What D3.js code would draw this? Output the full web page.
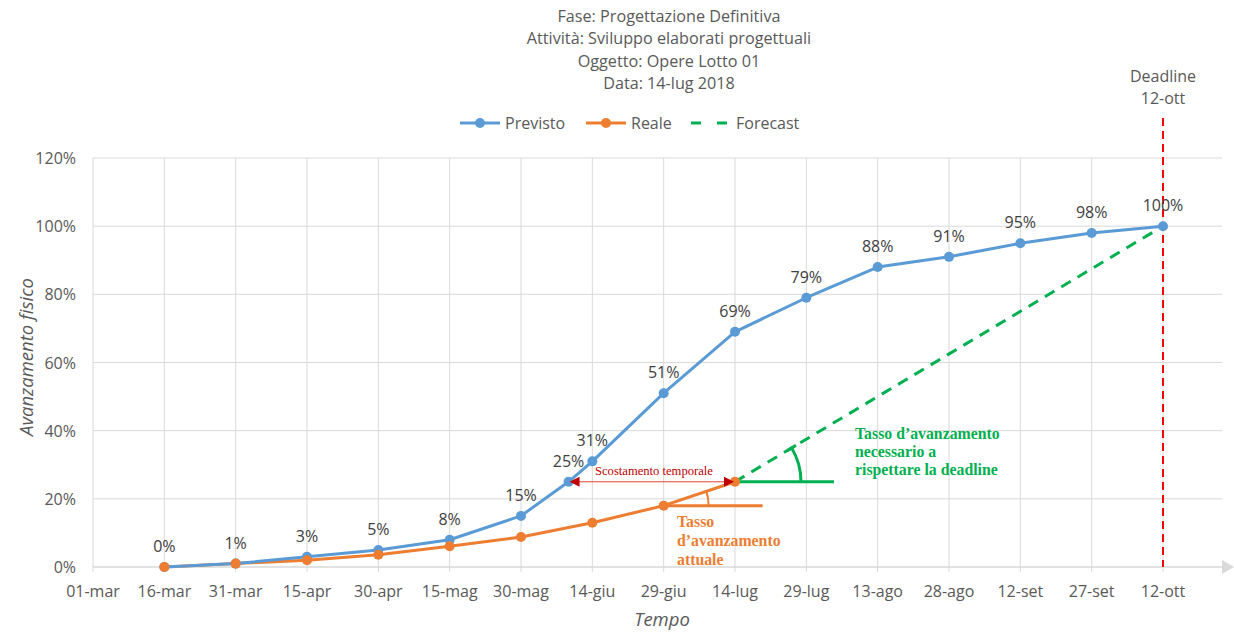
<!DOCTYPE html>
<html><head><meta charset="utf-8">
<script src="https://cdn.jsdelivr.net/npm/d3@7"></script>
<style>body{margin:0;background:#fff}svg{display:block}</style>
</head><body>
<svg id="c" width="1234" height="633"></svg>
<script>
const titleLines = ["Fase: Progettazione Definitiva","Attività: Sviluppo elaborati progettuali","Oggetto: Opere Lotto 01","Data: 14-lug 2018"];
const tickDates = ["2018-03-01","2018-03-16","2018-03-31","2018-04-15","2018-04-30","2018-05-15","2018-05-30","2018-06-14","2018-06-29","2018-07-14","2018-07-29","2018-08-13","2018-08-28","2018-09-12","2018-09-27","2018-10-12"];
const yTicks = [0,0.2,0.4,0.6,0.8,1.0,1.2];
const previstoDates = ["2018-03-16","2018-03-31","2018-04-15","2018-04-30","2018-05-15","2018-05-30","2018-06-09","2018-06-14","2018-06-29","2018-07-14","2018-07-29","2018-08-13","2018-08-28","2018-09-12","2018-09-27","2018-10-12"];
const previstoValues = [0,0.01,0.03,0.05,0.08,0.15,0.25,0.31,0.51,0.69,0.79,0.88,0.91,0.95,0.98,1.00];
const realeDates = ["2018-03-16","2018-03-31","2018-04-15","2018-04-30","2018-05-15","2018-05-30","2018-06-14","2018-06-29","2018-07-14"];
const realeValues = [0,0.01,0.02,0.036,0.061,0.088,0.13,0.18,0.25];
const forecastDates = ["2018-07-14","2018-10-12"];
const forecastValues = [0.25,1.00];
const deadlineDate = "2018-10-12";

const parse = d3.timeParse("%Y-%m-%d");
const it = d3.timeFormatLocale({dateTime:"%A %e %B %Y, %X",date:"%d/%m/%Y",time:"%H:%M:%S",periods:["AM","PM"],
  days:["domenica","lunedì","martedì","mercoledì","giovedì","venerdì","sabato"],shortDays:["dom","lun","mar","mer","gio","ven","sab"],
  months:["gennaio","febbraio","marzo","aprile","maggio","giugno","luglio","agosto","settembre","ottobre","novembre","dicembre"],
  shortMonths:["gen","feb","mar","apr","mag","giu","lug","ago","set","ott","nov","dic"]});
const fmt = it.format("%d-%b");

const FONT = "'Open Sans', sans-serif";
const SERIF = "'Liberation Serif', 'Times New Roman', serif";
const C_PREV = "#5b9bd5", C_REAL = "#ed7d31", C_FC = "#00b050", GRID = "#d9d9d9", TXT = "#595959", LBL = "#404040";

const svg = d3.select("#c");
const x = d3.scaleTime().domain([parse(tickDates[0]), parse(tickDates[tickDates.length-1])]).range([93,1163]);
const y = d3.scaleLinear().domain([0,1.2]).range([567,158]);
const xEnd = 1222;

// title
svg.append("g").selectAll("text").data(titleLines).join("text")
  .attr("x",669).attr("y",(d,i)=>21.5+i*22.6).attr("text-anchor","middle")
  .attr("font-family",FONT).attr("font-size",16.2).attr("fill",TXT).text(d=>d);

// gridlines
const g = svg.append("g");
g.selectAll("line.h").data(yTicks.slice(1)).join("line")
  .attr("x1",x.range()[0]).attr("x2",xEnd).attr("y1",d=>y(d)).attr("y2",d=>y(d))
  .attr("stroke",GRID).attr("stroke-width",1);
g.selectAll("line.v").data(tickDates).join("line")
  .attr("x1",d=>x(parse(d))).attr("x2",d=>x(parse(d))).attr("y1",y(1.2)).attr("y2",y(0)+5)
  .attr("stroke",GRID).attr("stroke-width",1);
// x axis line + arrow
g.append("line").attr("x1",x.range()[0]).attr("x2",xEnd).attr("y1",y(0)).attr("y2",y(0)).attr("stroke",GRID).attr("stroke-width",1.5);
g.append("path").attr("d",`M${xEnd},${y(0)-7}L${xEnd+12},${y(0)}L${xEnd},${y(0)+7}Z`).attr("fill",GRID);

// y tick labels
svg.append("g").selectAll("text").data(yTicks).join("text")
  .attr("x",76).attr("y",d=>y(d)+6).attr("text-anchor","end")
  .attr("font-family",FONT).attr("font-size",16).attr("fill",TXT).text(d=>Math.round(d*100)+"%");
// x tick labels
svg.append("g").selectAll("text").data(tickDates).join("text")
  .attr("x",d=>x(parse(d))).attr("y",597).attr("text-anchor","middle")
  .attr("font-family",FONT).attr("font-size",16).attr("fill",TXT).text(d=>fmt(parse(d)));

// axis titles
svg.append("text").attr("transform","translate(33,357) rotate(-90)").attr("text-anchor","middle")
  .attr("font-family",FONT).attr("font-size",18.5).attr("font-style","italic").attr("fill",TXT).text("Avanzamento fisico");
svg.append("text").attr("x",662).attr("y",626).attr("text-anchor","middle")
  .attr("font-family",FONT).attr("font-size",18.5).attr("font-style","italic").attr("fill",TXT).text("Tempo");

// deadline
const xd = x(parse(deadlineDate));
svg.append("line").attr("x1",xd).attr("x2",xd).attr("y1",118).attr("y2",y(0))
  .attr("stroke","#ff0000").attr("stroke-width",2).attr("stroke-dasharray","8,5");
svg.append("text").attr("x",xd).attr("y",81.5).attr("text-anchor","middle").attr("font-family",FONT).attr("font-size",16).attr("fill",TXT).text("Deadline");
svg.append("text").attr("x",xd).attr("y",104).attr("text-anchor","middle").attr("font-family",FONT).attr("font-size",16).attr("fill",TXT).text("12-ott");

const line = d3.line().x(d=>x(d[0])).y(d=>y(d[1]));
const prev = previstoDates.map((d,i)=>[parse(d),previstoValues[i]]);
const real = realeDates.map((d,i)=>[parse(d),realeValues[i]]);
const fc = forecastDates.map((d,i)=>[parse(d),forecastValues[i]]);

// forecast
svg.append("path").attr("d",line(fc)).attr("fill","none").attr("stroke",C_FC).attr("stroke-width",3).attr("stroke-dasharray","11,8");

// annotations - green
const p0 = fc[0], p1 = fc[1];
const gx0 = x(p0[0]), gy0 = y(p0[1]);
const gAng = Math.atan2(y(p0[1])-y(p1[1]), x(p1[0])-x(p0[0]));
svg.append("line").attr("x1",gx0).attr("x2",gx0+99).attr("y1",gy0).attr("y2",gy0).attr("stroke",C_FC).attr("stroke-width",3);
const gr = 66;
svg.append("path").attr("d",`M${gx0+gr},${gy0}A${gr},${gr} 0 0 0 ${gx0+gr*Math.cos(gAng)},${gy0-gr*Math.sin(gAng)}`)
  .attr("fill","none").attr("stroke",C_FC).attr("stroke-width",3);
{
  const cx = gx0+gr*Math.cos(gAng), cy = gy0-gr*Math.sin(gAng);
  const dx = 5*Math.cos(gAng), dy = -5*Math.sin(gAng);
  svg.append("line").attr("x1",cx-dx).attr("y1",cy-dy).attr("x2",cx+dx).attr("y2",cy+dy).attr("stroke",C_FC).attr("stroke-width",3);
}
svg.append("g").selectAll("text").data(["Tasso d’avanzamento","necessario a","rispettare la deadline"]).join("text")
  .attr("x",855).attr("y",(d,i)=>438.5+i*18).attr("font-family",SERIF).attr("font-weight","bold").attr("font-size",15.8)
  .attr("fill",C_FC).text(d=>d);

// annotations - orange
const r0 = real[real.length-2], r1 = real[real.length-1];
const ox0 = x(r0[0]), oy0 = y(r0[1]);
const oAng = Math.atan2(y(r0[1])-y(r1[1]), x(r1[0])-x(r0[0]));
svg.append("line").attr("x1",ox0).attr("x2",ox0+99).attr("y1",oy0).attr("y2",oy0).attr("stroke",C_REAL).attr("stroke-width",3);
const orr = 45;
svg.append("path").attr("d",`M${ox0+orr},${oy0}A${orr},${orr} 0 0 0 ${ox0+orr*Math.cos(oAng)},${oy0-orr*Math.sin(oAng)}`)
  .attr("fill","none").attr("stroke",C_REAL).attr("stroke-width",2);
svg.append("g").selectAll("text").data(["Tasso","d’avanzamento","attuale"]).join("text")
  .attr("x",677).attr("y",(d,i)=>527+i*19).attr("font-family",SERIF).attr("font-weight","bold").attr("font-size",15.8)
  .attr("fill",C_REAL).text(d=>d);

// series lines
svg.append("path").attr("d",line(real)).attr("fill","none").attr("stroke",C_REAL).attr("stroke-width",3).attr("stroke-linejoin","round");
svg.append("path").attr("d",line(prev)).attr("fill","none").attr("stroke",C_PREV).attr("stroke-width",3).attr("stroke-linejoin","round");
svg.append("g").selectAll("circle").data(prev).join("circle").attr("cx",d=>x(d[0])).attr("cy",d=>y(d[1])).attr("r",5).attr("fill",C_PREV);
svg.append("g").selectAll("circle").data(real).join("circle").attr("cx",d=>x(d[0])).attr("cy",d=>y(d[1])).attr("r",5).attr("fill",C_REAL);

// data labels
svg.append("g").selectAll("text").data(prev).join("text")
  .attr("x",d=>x(d[0])).attr("y",d=>y(d[1])-15).attr("text-anchor","middle")
  .attr("font-family",FONT).attr("font-size",16).attr("fill",LBL).text(d=>Math.round(d[1]*100)+"%");

// scostamento temporale
{
  const tgt = 0.25;
  const pp = prev.find(d=>d[1]===tgt);
  const xa = x(pp[0]), xb = x(r1[0]), yy = y(tgt);
  svg.append("line").attr("x1",xa+6).attr("x2",xb-6).attr("y1",yy).attr("y2",yy).attr("stroke","#e8403a").attr("stroke-width",1);
  svg.append("path").attr("d",`M${xa+1},${yy}L${xa+11},${yy-5}L${xa+11},${yy+5}Z`).attr("fill","#c00000");
  svg.append("path").attr("d",`M${xb-1},${yy}L${xb-11},${yy-5}L${xb-11},${yy+5}Z`).attr("fill","#c00000");
  svg.append("text").attr("x",595).attr("y",yy-7).attr("font-family",SERIF).attr("font-size",12.6).attr("fill","#c00000").text("Scostamento temporale");
}

// legend
const lg = svg.append("g");
const legendItems = [{name:"Previsto",c:C_PREV,x:460,dash:null,marker:true},{name:"Reale",c:C_REAL,x:586,dash:null,marker:true},{name:"Forecast",c:C_FC,x:691,dash:"10,16",marker:false}];
legendItems.forEach(d=>{
  lg.append("line").attr("x1",d.x).attr("x2",d.x+40).attr("y1",123).attr("y2",123).attr("stroke",d.c).attr("stroke-width",3).attr("stroke-dasharray",d.dash);
  if(d.marker) lg.append("circle").attr("cx",d.x+20).attr("cy",123).attr("r",5).attr("fill",d.c);
  lg.append("text").attr("x",d.x+45).attr("y",129).attr("font-family",FONT).attr("font-size",16).attr("fill",TXT).text(d.name);
});
</script>
</body></html>
